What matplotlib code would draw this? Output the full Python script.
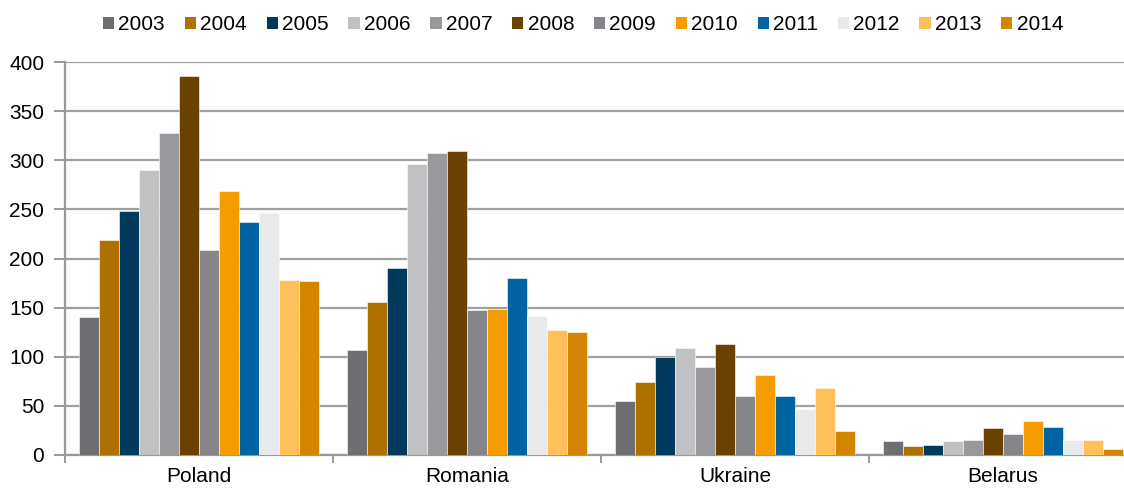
import matplotlib
matplotlib.use("Agg")
import matplotlib.pyplot as plt
from matplotlib.patches import Patch
import numpy as np

plt.rcParams['font.family'] = ['Liberation Sans', 'DejaVu Sans']

countries = ["Poland", "Romania", "Ukraine", "Belarus"]
years = ["2003", "2004", "2005", "2006", "2007", "2008", "2009", "2010", "2011", "2012", "2013", "2014"]
values = {
    "2003": [140, 107, 55, 14],
    "2004": [219, 156, 74, 9],
    "2005": [248, 190, 100, 10],
    "2006": [290, 296, 109, 14],
    "2007": [328, 307, 90, 15],
    "2008": [386, 309, 113, 27],
    "2009": [209, 148, 60, 21],
    "2010": [269, 149, 81, 35],
    "2011": [237, 180, 60, 28],
    "2012": [246, 141, 47, 15],
    "2013": [178, 127, 68, 15],
    "2014": [177, 125, 24, 6],
}
colors = ["#6d6e71", "#b07000", "#003a5d", "#c0c1c3", "#98999c", "#6a4100",
          "#868589", "#f59c00", "#0063a2", "#e8e9eb", "#ffc05a", "#d48500"]
yticks = [0, 50, 100, 150, 200, 250, 300, 350, 400]

W, H = 1124, 488
fig = plt.figure(figsize=(W / 100, H / 100), dpi=100)
left_px, right_px, top_px, bot_px = 65, 1124, 62, 455
ax = fig.add_axes([left_px / W, (H - bot_px) / H, (right_px - left_px) / W, (bot_px - top_px) / H])

cat_px = 268.0
x = np.arange(len(countries))
bw = 20.0 / cat_px
n = len(years)
for i, (yr, c) in enumerate(zip(years, colors)):
    offs = (i - (n - 1) / 2) * bw
    ax.bar(x + offs, values[yr], width=bw, color=c, edgecolor="white", linewidth=0.4, zorder=3)

ax.set_yticks(yticks)
ax.yaxis.grid(True, color="#a0a0a0", linewidth=1.6, zorder=0)
ax.set_axisbelow(True)

# category boundary ticks
ax.set_xticks(np.arange(-0.5, 4.0, 1.0))
ax.set_xticks(x, minor=True)
ax.set_xticklabels([""] * 5)
ax.set_xticklabels(countries, minor=True)
ax.set_ylim(0, 400)
ax.set_xlim(-0.5, -0.5 + (right_px - left_px) / cat_px)
ax.tick_params(axis="x", which="major", length=6, width=1.4, color="#999999", direction="out")
ax.tick_params(axis="x", which="minor", length=0, pad=9, labelsize=15)
ax.tick_params(axis="y", length=8, width=1.4, color="#999999", labelsize=15, pad=7)

for s in ["top", "right"]:
    ax.spines[s].set_visible(False)
for s in ["left", "bottom"]:
    ax.spines[s].set_color("#999999")
    ax.spines[s].set_linewidth(1.6)

handles = [Patch(facecolor=c, edgecolor="none") for c in colors]
fig.legend(handles, years, loc="center", bbox_to_anchor=(583 / W, 1 - 25 / H), ncol=12,
           frameon=False, fontsize=15, handlelength=0.55, handleheight=0.55,
           handletextpad=0.2, columnspacing=0.94)

fig.savefig("out.png", dpi=100)
